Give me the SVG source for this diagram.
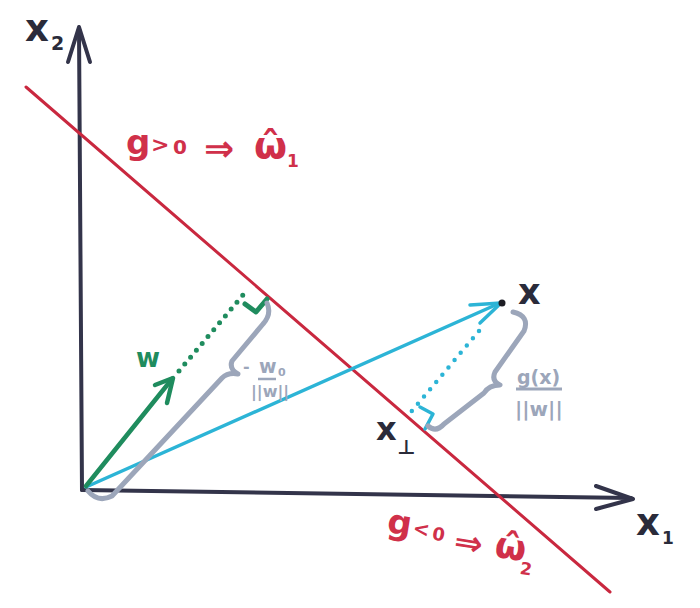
<svg xmlns="http://www.w3.org/2000/svg" width="700" height="608" viewBox="0 0 700 608">
<style>
.ax{stroke:#33344a;stroke-width:4;fill:none;stroke-linecap:round;stroke-linejoin:round}
.red{stroke:#c9283f;stroke-width:3;fill:none;stroke-linecap:round}
.grn{stroke:#1f8c5e;fill:none;stroke-linecap:round;stroke-linejoin:round}
.cyn{stroke:#2cb4d6;fill:none;stroke-linecap:round;stroke-linejoin:round}
.gry{stroke:#9ca6ba;stroke-width:5;fill:none;stroke-linecap:round;stroke-linejoin:round}
.lbl{font-family:"DejaVu Sans","Liberation Sans",sans-serif;font-weight:bold}
.blk{fill:#2a2b3a}
.rtx{fill:#d0304a}
.gtx{fill:#9ca6ba}
.gntx{fill:#1f8c5e}
</style>
<rect width="700" height="608" fill="#ffffff"/>
<g id="connectors">
  <g id="axis-x2">
    <line class="ax" x1="82" y1="490" x2="79" y2="29"/>
    <polyline class="ax" points="68,62 79,27 90,62"/>
  </g>
  <g id="axis-x1">
    <line class="ax" x1="82" y1="490" x2="631" y2="498"/>
    <polyline class="ax" points="596,486 633,499 596,509"/>
  </g>
  <g id="boundary">
    <line class="red" x1="26" y1="87" x2="610" y2="592"/>
  </g>
  <g id="vector-x">
    <line class="cyn" stroke-width="3.5" x1="86" y1="487" x2="500" y2="303"/>
    <polyline class="cyn" stroke-width="3.5" points="470,305 501,303 480,323"/>
    <line class="cyn" stroke-width="4.5" stroke-dasharray="0 9.5" x1="479" y1="331" x2="411" y2="412"/>
    <polyline class="cyn" stroke-width="3.5" points="420,407 433,414 425,429"/>
    <circle cx="502" cy="303" r="3.5" fill="#1c1c24"/>
  </g>
  <g id="vector-w">
    <line class="grn" stroke-width="4.5" x1="86" y1="486" x2="172" y2="379"/>
    <polyline class="grn" stroke-width="4.5" points="155,385 173,378 167,403"/>
    <line class="grn" stroke-width="5" stroke-dasharray="0 9" x1="179" y1="371" x2="248" y2="289"/>
    <polyline class="grn" stroke-width="5" points="245,304 256,312 267,299"/>
  </g>
  <g id="brace-w0">
    <path class="gry" d="M88,491 Q98,503 112,496 L222,378 Q228,372 238,374 Q229,369 232,361 L263,324 Q272,314 267,303"/>
  </g>
  <g id="brace-gx">
    <path class="gry" d="M513,312 Q530,316 524,331 L495,372 Q491,381 500,385 Q489,385 484,393 L444,424 Q436,433 428,426"/>
  </g>
</g>
<g id="label-x2" class="lbl blk">
  <text x="25" y="41" font-size="37">x</text>
  <text x="51" y="50" font-size="19">2</text>
</g>
<g id="label-x1" class="lbl blk">
  <text x="636" y="535" font-size="37">x</text>
  <text x="662" y="544" font-size="17">1</text>
</g>
<g id="label-x" class="lbl blk">
  <text x="518" y="304" font-size="35">x</text>
</g>
<g id="label-xperp" class="lbl blk">
  <text x="376" y="440" font-size="32">x</text>
  <text x="397" y="454" font-size="20">⊥</text>
</g>
<g id="label-w" class="lbl gntx">
  <text x="136" y="367" font-size="26">w</text>
</g>
<g id="label-w0" class="lbl gtx">
  <text x="243" y="372" font-size="16">-</text>
  <text x="259" y="373" font-size="19">w</text>
  <text x="278" y="376" font-size="11">0</text>
  <line x1="258" y1="379" x2="276" y2="379" stroke="#9ca6ba" stroke-width="2.5"/>
  <text x="251" y="397" font-size="16">||w||</text>
</g>
<g id="label-gx" class="lbl gtx">
  <text x="517" y="384" font-size="19">g(x)</text>
  <line x1="516" y1="389" x2="562" y2="389" stroke="#9ca6ba" stroke-width="3"/>
  <text x="515" y="416" font-size="20">||w||</text>
</g>
<g id="label-class1" class="lbl rtx">
  <text x="126" y="154" font-size="34">g</text>
  <text x="151" y="152" font-size="22">&gt;</text>
  <text x="173" y="154" font-size="20">0</text>
  <text x="204" y="161" font-size="36">⇒</text>
  <text x="254" y="158" font-size="38">ω̂</text>
  <text x="287" y="167" font-size="17">1</text>
</g>
<g id="label-class2" class="lbl rtx" transform="rotate(9 390 533)">
  <text x="386" y="533" font-size="34">g</text>
  <text x="412" y="531" font-size="20">&lt;</text>
  <text x="432" y="533" font-size="18">0</text>
  <text x="455" y="542" font-size="34">⇒</text>
  <text x="496" y="540" font-size="36">ω̂</text>
  <text x="524" y="553" font-size="17">2</text>
</g>
</svg>
